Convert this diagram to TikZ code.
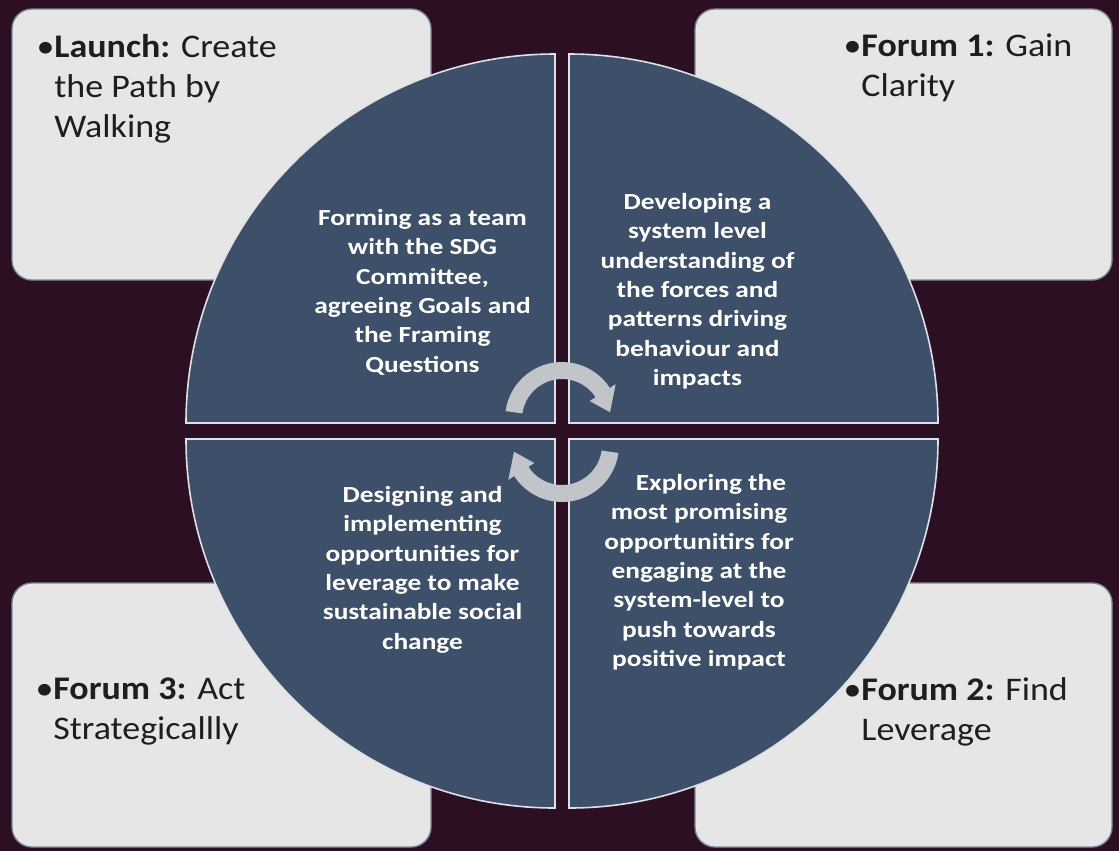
\documentclass[tikz,border=0pt]{standalone}
\usepackage{fontspec}
\setmainfont{Carlito}
\newfontfamily\slidefont[FakeStretch=1.09]{Carlito}
\newfontfamily\quadfont[FakeStretch=1.19]{Carlito}

\definecolor{bgmaroon}{RGB}{44,15,35}
\definecolor{boxgrey}{RGB}{230,230,230}
\definecolor{boxedge}{RGB}{125,137,152}
\definecolor{quadblue}{RGB}{62,79,105}
\definecolor{quadedge}{RGB}{222,226,232}
\definecolor{cyclegrey}{RGB}{193,197,202}
\definecolor{inkdark}{RGB}{30,30,30}

\tikzset{every picture/.style={line width=0.75pt}}
\tikzset{
  infobox/.style={draw=boxedge, fill=boxgrey, line width=1pt, rounded corners=15},
  quadrant/.style={draw=quadedge, fill=quadblue, line width=1.2pt},
  boxtext/.style={anchor=north west, inner sep=0, align=left, text=inkdark,
    font=\slidefont\fontsize{24.75}{30}\selectfont},
  quadtext/.style={anchor=north, inner sep=0, align=center, text=white,
    font=\quadfont\bfseries\fontsize{17.25}{22}\selectfont}
}
\newcommand{\hangbul}{\phantom{\textbullet}}

\begin{document}
\begin{tikzpicture}[x=0.75pt,y=0.75pt,yscale=-1,xscale=1]
	%uncomment if require: \path (0,851); %set diagram left start at 0, and has height of 851
	\fill [bgmaroon] (0,0) rectangle (1119,851);
	\useasboundingbox (0,0) rectangle (1119,851);

	%Rounded Rect [Launch]
	\draw [infobox] (12,9) rectangle (431,280);
	%Rounded Rect [Forum 1]
	\draw [infobox] (695,9) rectangle (1112,280);
	%Rounded Rect [Forum 3]
	\draw [infobox] (12,583) rectangle (431,847);
	%Rounded Rect [Forum 2]
	\draw [infobox] (695,583) rectangle (1112,847);

	%Quarter Circle top left
	\draw [quadrant] (555,423) -- (186,423) arc [start angle=180, end angle=270, radius=369] -- cycle;
	%Quarter Circle top right
	\draw [quadrant] (569,423) -- (569,54) arc [start angle=270, end angle=360, radius=369] -- cycle;
	%Quarter Circle bottom right
	\draw [quadrant] (569,439) -- (938,439) arc [start angle=0, end angle=90, radius=369] -- cycle;
	%Quarter Circle bottom left
	\draw [quadrant] (555,439) -- (555,808) arc [start angle=90, end angle=180, radius=369] -- cycle;

	%Circular Arrow upper
	\begin{scope}[shift={(562,419)}]
	\fill [cyclegrey] (188:57) arc [start angle=188, end angle=327, radius=57] -- (327:64) -- (352:48.5) -- (327:33) -- (327:40) arc [start angle=327, end angle=188, radius=40] -- cycle;
	\end{scope}
	%Circular Arrow lower
	\begin{scope}[shift={(562,445)}, rotate=180]
	\fill [cyclegrey] (188:57) arc [start angle=188, end angle=327, radius=57] -- (327:64) -- (352:48.5) -- (327:33) -- (327:40) arc [start angle=327, end angle=188, radius=40] -- cycle;
	\end{scope}

	% Text Node
	\node [boxtext] (launch) at (36,34) {\textbullet\textbf{Launch:} Create\\\hangbul the Path by\\\hangbul Walking};
	% Text Node
	\node [boxtext] (forumone) at (843,33) {\textbullet\textbf{Forum 1:} Gain\\\hangbul Clarity};
	% Text Node
	\node [boxtext] (forumthree) at (35,677) {\textbullet\textbf{Forum 3:} Act\\\hangbul Strategicallly};
	% Text Node
	\node [boxtext] (forumtwo) at (843,677) {\textbullet\textbf{Forum 2:} Find\\\hangbul Leverage};

	% Text Node
	\node [quadtext] (forming) at (422.5,209) {Forming as a team\\with the SDG\\Committee,\\agreeing Goals and\\the Framing\\Questions};
	% Text Node
	\node [quadtext] (developing) at (697.5,193) {Developing a\\system level\\understanding of\\the forces and\\patterns driving\\behaviour and\\impacts};
	% Text Node
	\node [quadtext] (designing) at (422.5,486) {Designing and\\implementing\\opportunities for\\leverage to make\\sustainable social\\change};
	% Text Node
	\node [quadtext] (exploring) at (699,474) {\hspace*{18pt}Exploring the\\most promising\\opportunitirs for\\engaging at the\\system-level to\\push towards\\positive impact};

\end{tikzpicture}
\end{document}
